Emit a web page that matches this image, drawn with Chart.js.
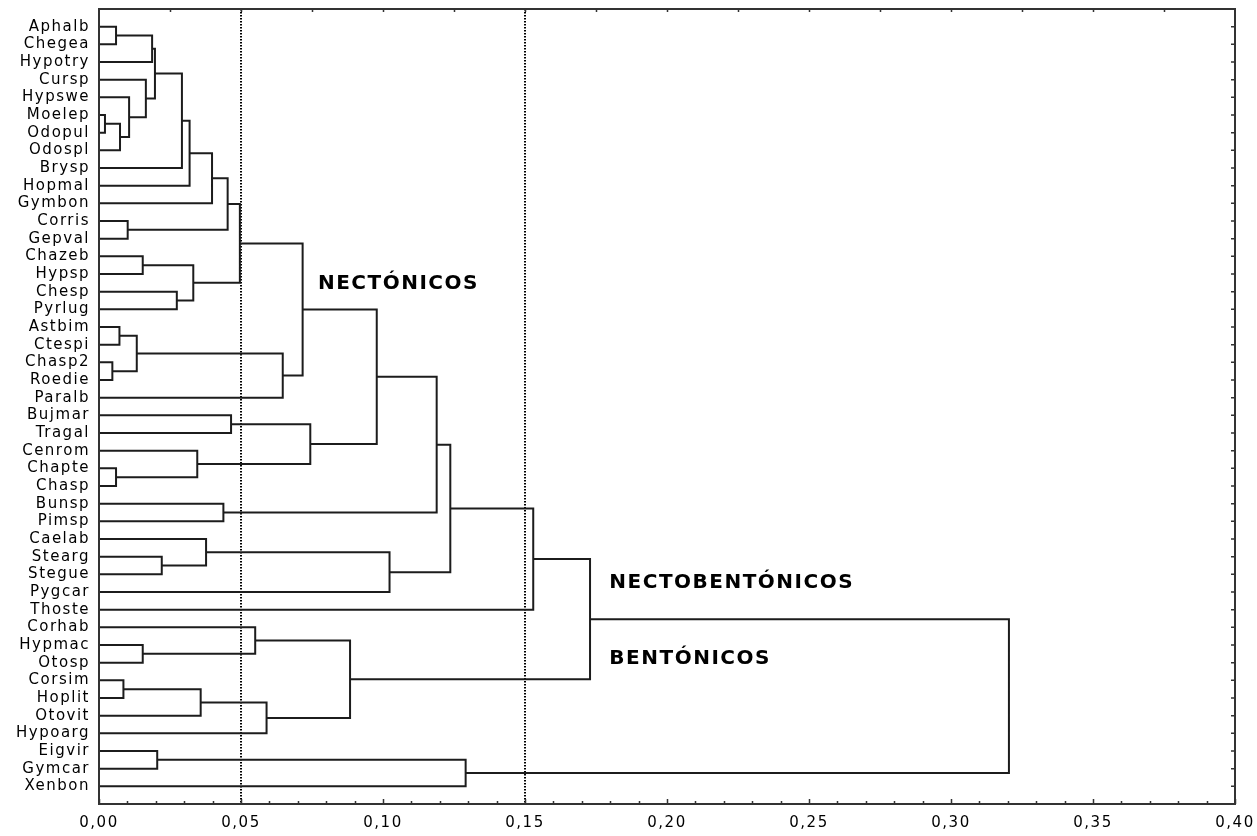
<!DOCTYPE html>
<html><head><meta charset="utf-8">
<script src="https://cdn.jsdelivr.net/npm/chart.js@4"></script>
<style>html,body{margin:0;padding:0;background:#fff;overflow:hidden}</style>
</head><body>
<canvas id="c" width="1257" height="836"></canvas>
<script>
// ---- data ----
const leaves = ['Aphalb','Chegea','Hypotry','Cursp','Hypswe','Moelep','Odopul','Odospl','Brysp','Hopmal','Gymbon',
  'Corris','Gepval','Chazeb','Hypsp','Chesp','Pyrlug','Astbim','Ctespi','Chasp2','Roedie','Paralb','Bujmar','Tragal',
  'Cenrom','Chapte','Chasp','Bunsp','Pimsp','Caelab','Stearg','Stegue','Pygcar','Thoste','Corhab','Hypmac','Otosp',
  'Corsim','Hoplit','Otovit','Hypoarg','Eigvir','Gymcar','Xenbon'];
// linkage: [childA, childB, distance]; leaves are 0..43, merge k creates node 44+k
const mergeA = [0,44,5,46,4,3,45,50,51,52,11,53,13,15,56,55,17,19,60,62,59,22,25,24,65,64,27,69,30,29,73,71,75,35,34,37,79,80,78,76,41,84,83];
const mergeB = [1,2,6,7,47,48,49,8,9,10,12,54,14,16,57,58,18,20,61,21,63,23,26,66,67,68,28,70,31,72,32,74,33,36,77,38,39,40,81,82,42,43,85];
const mergeDist = [0.0060,0.0187,0.0021,0.0074,0.0106,0.0165,0.0197,0.0292,0.0319,0.0398,0.0101,0.0453,0.0154,0.0274,
  0.0332,0.0496,0.0072,0.0047,0.0133,0.0647,0.0717,0.0465,0.0060,0.0346,0.0744,0.0978,0.0438,0.1189,0.0221,0.0377,
  0.1023,0.1237,0.1529,0.0154,0.0550,0.0086,0.0358,0.0590,0.0884,0.1729,0.0205,0.1291,0.3204];
const cutoffs = [0.05, 0.15];
const xTickValues = [0,0.05,0.10,0.15,0.20,0.25,0.30,0.35,0.40];
const groupLabels = ['NECTÓNICOS','NECTOBENTÓNICOS','BENTÓNICOS'];
const groupAtDist = [0.0771, 0.1797, 0.1797];
const groupAtRow = [14.54, 31.5, 35.78];

// ---- build dendrogram segments ----
const nodeY = leaves.map((_, i) => i);
const nodeH = leaves.map(() => 0);
const segs = [];
mergeA.forEach((a, k) => {
  const b = mergeB[k], h = mergeDist[k];
  segs.push({x: nodeH[a], y: nodeY[a]}, {x: h, y: nodeY[a]}, {x: h, y: nodeY[b]}, {x: nodeH[b], y: nodeY[b]}, {x: null, y: null});
  nodeY.push((nodeY[a] + nodeY[b]) / 2);
  nodeH.push(h);
});

const datasets = [{
  data: segs, borderColor: '#1c1c1c', borderWidth: 2, pointRadius: 0, fill: false, tension: 0, spanGaps: false,
  borderJoinStyle: 'miter'
}];
cutoffs.forEach(c => datasets.push({
  data: [{x: c, y: -1}, {x: c, y: 44}], borderColor: '#000', borderWidth: 2, borderDash: [1.5, 1.5],
  pointRadius: 0, fill: false
}));

const framePlugin = {
  id: 'frame',
  beforeDraw(chart) { chart.ctx.letterSpacing = '1.5px'; },
  afterDraw(chart) {
    const {ctx, chartArea: a, scales: {x, y}} = chart;
    ctx.save();
    ctx.letterSpacing = '0px';
    ctx.strokeStyle = '#333';
    ctx.lineWidth = 2;
    ctx.strokeRect(a.left, a.top, a.right - a.left, a.bottom - a.top);
    ctx.lineWidth = 1.5;
    ctx.beginPath();
    for (let i = 0; i <= 40; i++) {
      const px = Math.round(x.getPixelForValue(i / 100)) + 0.5;
      const len = i % 5 === 0 ? 5 : 3;
      ctx.moveTo(px, a.bottom); ctx.lineTo(px, a.bottom - len);
    }
    for (let i = 1; i < 16; i++) {
      const px = Math.round(x.getPixelForValue(i * 0.025)) + 0.5;
      ctx.moveTo(px, a.top); ctx.lineTo(px, a.top + 3);
    }
    leaves.forEach((_, i) => {
      const py = y.getPixelForValue(i);
      ctx.moveTo(a.right, py); ctx.lineTo(a.right - 4, py);
    });
    ctx.stroke();
    ctx.font = 'bold 20px "DejaVu Sans"';
    ctx.fillStyle = '#000';
    ctx.textBaseline = 'middle';
    ctx.textAlign = 'left';
    ctx.letterSpacing = '1.5px';
    groupLabels.forEach((t, i) => ctx.fillText(t, x.getPixelForValue(groupAtDist[i]), y.getPixelForValue(groupAtRow[i])));
    ctx.restore();
  }
};

const noPad = s => { s.paddingTop = 0; s.paddingBottom = 0; s.paddingLeft = 0; s.paddingRight = 0; };

new Chart(document.getElementById('c'), {
  type: 'line',
  data: {datasets},
  options: {
    responsive: false,
    animation: false,
    layout: {padding: {top: 9, right: 22, left: 0, bottom: 0}},
    plugins: {legend: {display: false}, tooltip: {enabled: false}},
    scales: {
      x: {
        type: 'linear', min: 0, max: 0.4,
        afterBuildTicks: s => { s.ticks = xTickValues.map(v => ({value: v})); },
        afterFit: s => { s.height = 32; noPad(s); },
        grid: {display: false, drawTicks: false}, border: {display: false},
        ticks: {autoSkip: false, maxRotation: 0, padding: 10, color: '#000',
          font: {family: 'DejaVu Sans', size: 15},
          callback: v => Number(v).toFixed(2).replace('.', ',')}
      },
      y: {
        type: 'linear', min: -1, max: 44, reverse: true,
        afterBuildTicks: s => { s.ticks = leaves.map((_, i) => ({value: i})); },
        afterFit: s => { s.width = 99; noPad(s); },
        grid: {display: false, drawTicks: false}, border: {display: false},
        ticks: {autoSkip: false, padding: 9, color: '#000',
          font: {family: 'DejaVu Sans', size: 15},
          callback: v => leaves[v] !== undefined ? leaves[v] : ''}
      }
    }
  },
  plugins: [framePlugin]
});
</script>
</body></html>
